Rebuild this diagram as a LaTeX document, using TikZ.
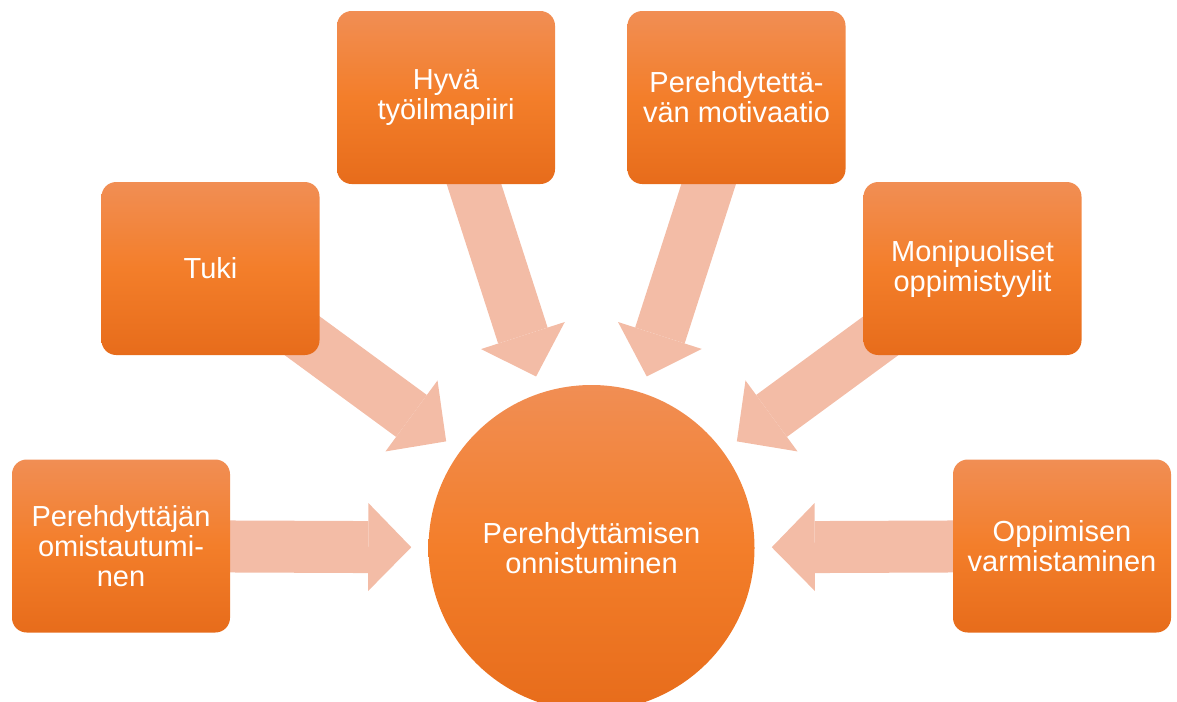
\documentclass[tikz,border=0pt]{standalone}
\usepackage{fontspec}
\setmainfont{Liberation Sans}
\usepackage{tikz}
\usetikzlibrary{arrows.meta,shapes,positioning,backgrounds}
\definecolor{boxtop}{RGB}{241,142,84}
\definecolor{boxmid}{RGB}{243,126,42}
\definecolor{boxbot}{RGB}{231,108,27}
\definecolor{pushfill}{RGB}{243,188,166}
\tikzset{
    box/.style={rounded corners=11pt, minimum width=163.5pt, minimum height=129.75pt,
        top color=boxtop, bottom color=boxbot, middle color=boxmid,
        text=white, align=center, font=\fontsize{21.75pt}{22.5pt}\selectfont},
    goal/.style={circle, minimum size=244.5pt, inner sep=0pt,
        top color=boxtop, bottom color=boxbot, middle color=boxmid,
        text=white, align=center, font=\fontsize{21.75pt}{22.5pt}\selectfont},
    push/.style={-{Triangle[length=32.25pt, width=66pt, line width=0pt]},
        line width=39pt, draw=pushfill, shorten >=12.75pt}
}

\begin{document}
\begin{tikzpicture}[x=0.75pt, y=-0.75pt]
    \useasboundingbox (0,0) rectangle (1177,701);

    \node[goal] (goal) at (591.5,548) {Perehdyttämisen\\onnistuminen};

    \node[box] (devotion) at (121,546) {Perehdyttäjän\\omistautumi-\\nen};
    \node[box] (support) at (210.5,268.5) {Tuki};
    \node[box] (climate) at (446,97.5) {Hyvä\\työilmapiiri};
    \node[box] (motivation) at (736.5,97.5) {Perehdytettä-\\vän motivaatio};
    \node[box] (styles) at (972.5,268.5) {Monipuoliset\\oppimistyylit};
    \node[box] (assurance) at (1062,546) {Oppimisen\\varmistaminen};

    \begin{scope}[on background layer]
        \draw[push] (devotion.center) -- (goal);
        \draw[push] (support.center) -- (goal);
        \draw[push] (climate.center) -- (goal);
        \draw[push] (motivation.center) -- (goal);
        \draw[push] (styles.center) -- (goal);
        \draw[push] (assurance.center) -- (goal);
    \end{scope}
\end{tikzpicture}
\end{document}
